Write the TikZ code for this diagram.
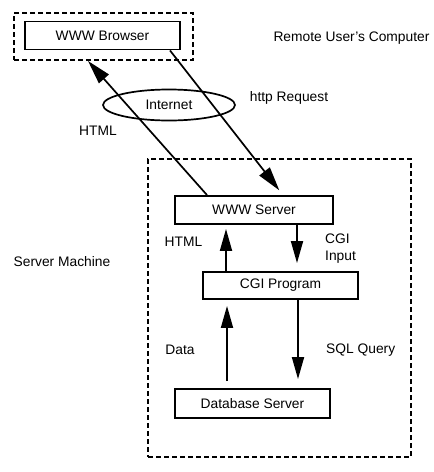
\documentclass[tikz,border=0pt]{standalone}
\usepackage{fontspec}
\setmainfont{Liberation Sans}
\usetikzlibrary{shapes.geometric,arrows.meta}

\begin{document}
\begin{tikzpicture}[
    x=1pt, y=-1pt,
    font=\fontsize{13.8}{17}\selectfont,
    box/.style = {draw, line width=1.9pt, minimum width=155pt, minimum height=28pt, inner sep=0pt},
    zone/.style = {draw, line width=1.9pt, dash pattern=on 5pt off 3pt, inner sep=0pt},
    arr/.style = {line width=1.9pt, -{Triangle[length=22pt, width=12pt]}},
    lbl/.style = {inner sep=0pt}
]

    \useasboundingbox (0,0) rectangle (434,472);

    % the two computers
    \node[zone, minimum width=179pt, minimum height=47pt] (remote) at (103.5,36.5) {};
    \node[zone, minimum width=263pt, minimum height=298pt] (machine) at (279.5,308) {};

    \node[box] (browser) at (102.5,35.5) {WWW Browser};
    \node[draw, ellipse, line width=1.7pt, minimum width=132pt, minimum height=31pt, inner sep=0pt] (internet) at (169,105) {Internet};

    \node[box, minimum width=158pt] (wwwserver) at (254,210) {WWW Server};
    \node[box, minimum height=27pt] (cgi) at (280.5,285.5) {CGI Program};
    \node[box, minimum height=29pt] (db) at (252.5,403.5) {Database Server};

    % connections
    \draw[arr, line width=1.7pt, -{Triangle[length=24pt, width=13pt]}] ([xshift=-47pt]wwwserver.north) -- ([xshift=-15.5pt]remote.south);
    \draw[arr, line width=1.7pt, -{Triangle[length=24pt, width=13pt]}, shorten >=6pt] ([xshift=67.5pt]browser.south) -- ([xshift=29pt]wwwserver.north);

    \draw[arr, shorten >=4pt] ([xshift=-54.5pt]cgi.north) -- ([xshift=-28pt]wwwserver.south);
    \draw[arr, shorten >=8pt] ([xshift=43pt]wwwserver.south) -- ([xshift=16.5pt]cgi.north);
    \draw[arr, shorten <=7pt, shorten >=6pt] ([xshift=-25.5pt]db.north) -- ([xshift=-53.5pt]cgi.south);
    \draw[arr, shorten >=9pt] ([xshift=17.5pt]cgi.south) -- ([xshift=45.5pt]db.north);

    % labels
    \node[lbl] (remotelbl) at (351.5,38) {Remote User's Computer};
    \node[lbl] (request) at (289,98) {http Request};
    \node[lbl] (htmlnet) at (98,131) {HTML};
    \node[lbl] (machinelbl) at (62,262) {Server Machine};
    \node[lbl] (htmlcgi) at (183.5,242) {HTML};
    \node[lbl, anchor=west, align=left] (cgiinput) at (325,249) {CGI\\Input};
    \node[lbl] (data) at (180,350) {Data};
    \node[lbl, anchor=west] (query) at (326,350) {SQL Query};

\end{tikzpicture}
\end{document}
